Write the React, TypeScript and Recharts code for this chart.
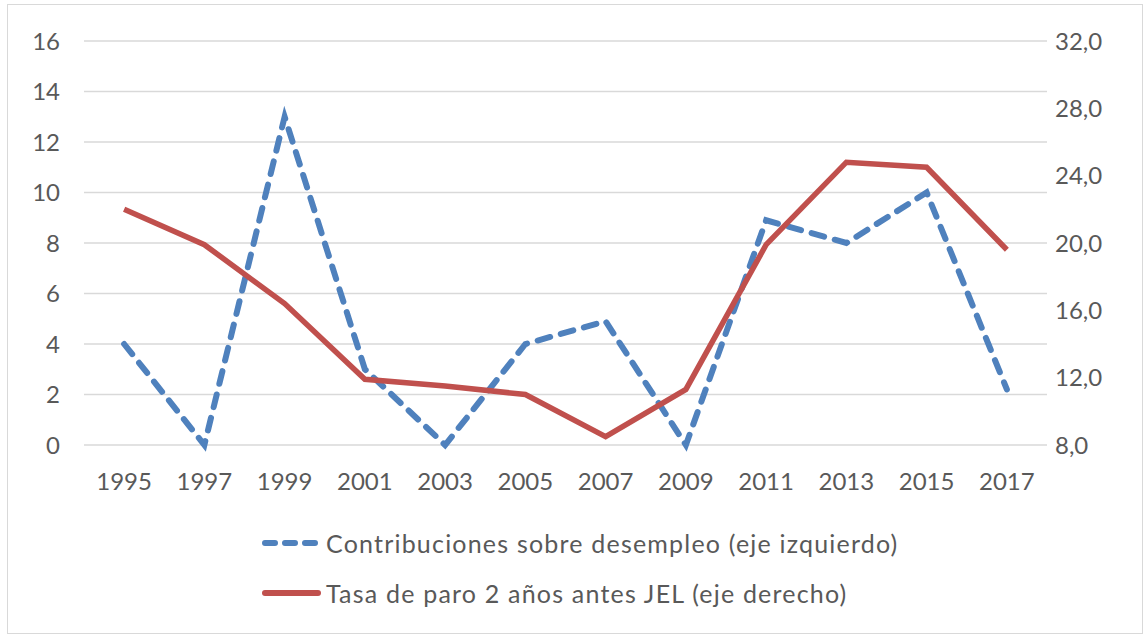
import React from 'react';
import { LineChart, Line, XAxis, YAxis, CartesianGrid, Legend } from 'recharts';

const years = ['1995', '1997', '1999', '2001', '2003', '2005', '2007', '2009', '2011', '2013', '2015', '2017'];
const contribuciones = [4, 0, 13, 3, 0, 4, 4.9, 0, 8.9, 8, 10, 2.2];
const tasaParo = [22.0, 19.9, 16.4, 11.9, 11.5, 11.0, 8.5, 11.3, 19.9, 24.8, 24.5, 19.6];
const leftTicks = [0, 2, 4, 6, 8, 10, 12, 14, 16];
const rightTicks = [8, 12, 16, 20, 24, 28, 32];

const data = years.map((y, i) => ({ year: y, contrib: contribuciones[i], tasa: tasaParo[i] }));

const FONT = 'Lato, "Open Sans", sans-serif';
const TEXT = '#595959';

const legendItems = [
  { label: 'Contribuciones sobre desempleo (eje izquierdo)', color: '#4F81BD', dashed: true },
  { label: 'Tasa de paro 2 años antes JEL (eje derecho)', color: '#C0504D', dashed: false },
];

const renderLegend = () => (
  <div style={{ paddingLeft: 262, fontFamily: FONT, fontSize: 25, letterSpacing: 1.2, color: TEXT }}>
    {legendItems.map((it) => (
      <div key={it.label} style={{ display: 'flex', alignItems: 'center', height: 50 }}>
        <svg width={60} height={12} style={{ marginRight: 4 }}>
          <line
            x1={3}
            y1={6}
            x2={56}
            y2={6}
            stroke={it.color}
            strokeWidth={6}
            strokeLinecap="round"
            strokeDasharray={it.dashed ? '10 10' : undefined}
          />
        </svg>
        <span>{it.label}</span>
      </div>
    ))}
  </div>
);

export default function App() {
  return (
    <div style={{ position: 'absolute', top: 0, left: 0, width: 1144, height: 637, background: '#fff' }}>
      <div
        style={{
          position: 'absolute',
          left: 7,
          top: 4,
          width: 1134,
          height: 628,
          border: '1px solid #D9D9D9',
        }}
      />
      <LineChart
        width={1144}
        height={637}
        data={data}
        margin={{ top: 41, right: 0, bottom: 162, left: 0 }}
        style={{ fontFamily: FONT }}
      >
        <CartesianGrid yAxisId="left" vertical={false} stroke="#D9D9D9" strokeWidth={1.5} />
        <XAxis
          dataKey="year"
          scale="band"
          height={30}
          axisLine={false}
          tickLine={false}
          tickSize={0}
          tickMargin={28}
          tick={{ fill: TEXT, fontSize: 24 }}
          interval={0}
        />
        <YAxis
          yAxisId="left"
          orientation="left"
          width={84}
          domain={[0, 16]}
          ticks={leftTicks}
          axisLine={false}
          tickLine={false}
          tickSize={0}
          tickMargin={24}
          tick={{ fill: TEXT, fontSize: 24 }}
        />
        <YAxis
          yAxisId="right"
          orientation="right"
          width={97}
          domain={[8, 32]}
          ticks={rightTicks}
          axisLine={false}
          tickLine={false}
          tickSize={0}
          tickMargin={8}
          tick={{ fill: TEXT, fontSize: 24 }}
          tickFormatter={(v: number) => v.toFixed(1).replace('.', ',')}
        />
        <Legend
          layout="horizontal"
          verticalAlign="middle"
          align="center"
          wrapperStyle={{ top: 518, left: 0, width: 1144 }}
          content={renderLegend}
        />
        <Line
          yAxisId="left"
          dataKey="contrib"
          stroke="#4F81BD"
          strokeWidth={6}
          strokeDasharray="13 11"
          strokeLinecap="round"
          dot={false}
          isAnimationActive={false}
        />
        <Line
          yAxisId="right"
          dataKey="tasa"
          stroke="#C0504D"
          strokeWidth={5.5}
          dot={false}
          isAnimationActive={false}
        />
      </LineChart>
    </div>
  );
}
